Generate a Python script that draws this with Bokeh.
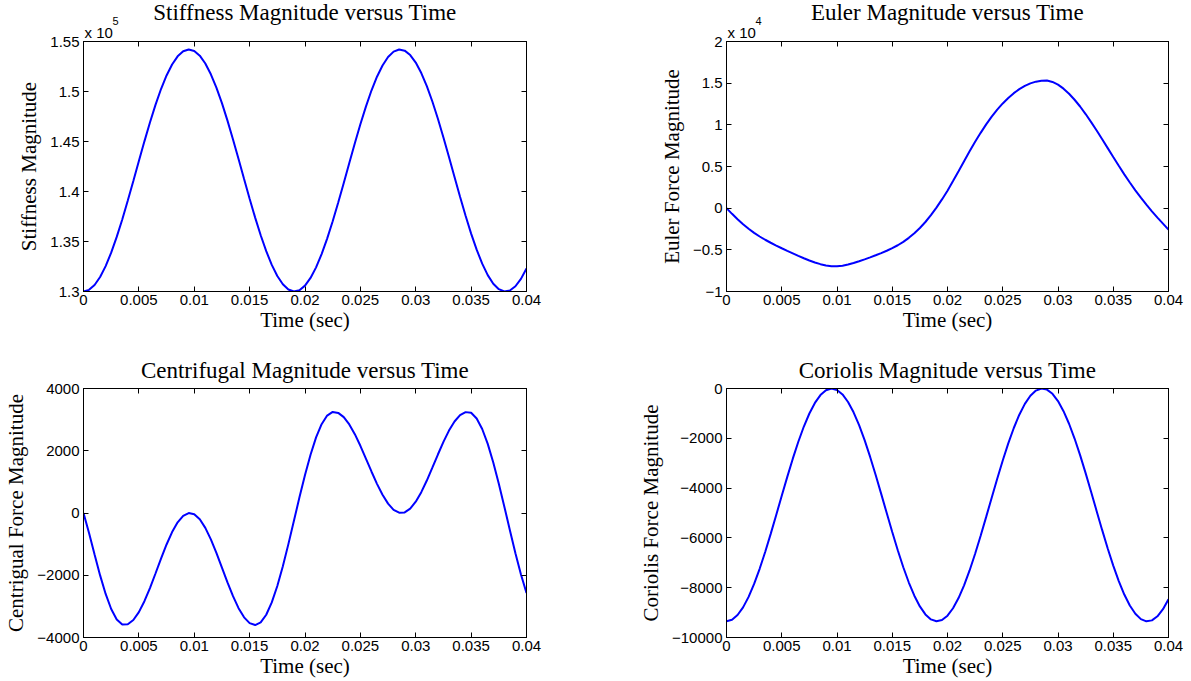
from bokeh.plotting import figure
from bokeh.layouts import column, row
from bokeh.models import Range1d, FixedTicker, LinearAxis, Title
from bokeh.embed import file_html
from bokeh.resources import INLINE

# ---------------- data ----------------
time_s = [round(i * 0.0005, 4) for i in range(81)]

stiffness = [
    130000, 130163, 130651, 131451, 132539, 133887, 135460, 137204, 139091, 141053,
    143046, 145015, 146907, 148663, 150248, 151602, 152702, 153515, 154020, 154199,
    154052, 153580, 152796, 151723, 150389, 148836, 147086, 145204, 143247, 141252,
    139282, 137389, 135622, 134032, 132662, 131549, 130719, 130197, 130001, 130131,
    130587, 131356, 132415, 133738, 135288, 137019, 138896, 140855, 142848, 144819,
    146722, 148492, 150096, 151476, 152606, 153451, 153986, 154199, 154085, 153646,
    152891, 151845, 150536, 148997, 147272, 145405, 143446, 141451, 139477, 137571,
    135791, 134182, 132785, 131637, 130780, 130231, 130001, 130099, 130523, 131261,
    132293,
]

euler = [
    0, -680, -1320, -1920, -2470, -2960, -3400, -3790, -4150, -4490,
    -4810, -5120, -5420, -5720, -6010, -6280, -6520, -6720, -6870, -6970,
    -6980, -6900, -6760, -6580, -6370, -6140, -5900, -5650, -5390, -5110,
    -4800, -4450, -4050, -3560, -3010, -2380, -1660, -840, 70, 1050,
    2100, 3250, 4440, 5640, 6820, 7960, 9040, 10050, 10980, 11820,
    12570, 13230, 13800, 14280, 14670, 14970, 15180, 15300, 15320, 15150,
    14820, 14340, 13730, 13010, 12200, 11295, 10330, 9315, 8270, 7205,
    6140, 5085, 4060, 3075, 2140, 1255, 420, -375, -1130, -1855,
    -2580,
]

centrifugal = [
    0, -643, -1337, -2005, -2601, -3085, -3421, -3585, -3577, -3439,
    -3186, -2834, -2411, -1944, -1466, -1011, -614, -300, -91, -3,
    -41, -203, -478, -846, -1281, -1752, -2227, -2672, -3057, -3352,
    -3537, -3600, -3516, -3270, -2873, -2344, -1709, -1000, -250, 503,
    1222, 1872, 2428, 2854, 3130, 3247, 3216, 3079, 2845, 2532,
    2159, 1750, 1334, 936, 584, 301, 102, 9, 20, 141,
    362, 670, 1043, 1455, 1879, 2286, 2648, 2940, 3142, 3241,
    3220, 3038, 2699, 2220, 1622, 942, 203, -553, -1290, -1974,
    -2573,
]

coriolis = [
    -9350, -9287, -9098, -8789, -8369, -7848, -7241, -6567, -5838, -5079,
    -4309, -3549, -2818, -2139, -1527, -1004, -579, -265, -70, 0,
    -57, -239, -542, -957, -1473, -2072, -2748, -3476, -4232, -5003,
    -5764, -6495, -7178, -7792, -8322, -8752, -9072, -9274, -9350, -9299,
    -9123, -8826, -8417, -7906, -7307, -6638, -5913, -5156, -4386, -3625,
    -2889, -2205, -1586, -1052, -616, -289, -83, 0, -44, -214,
    -506, -910, -1416, -2010, -2677, -3398, -4155, -4926, -5689, -6425,
    -7113, -7734, -8274, -8717, -9048, -9261, -9350, -9312, -9148, -8863,
    -8464,
]

x_ticks = [0, 0.005, 0.01, 0.015, 0.02, 0.025, 0.03, 0.035, 0.04]
x_tick_labels = ["0", "0.005", "0.01", "0.015", "0.02", "0.025", "0.03", "0.035", "0.04"]

stiff_ticks = [130000, 135000, 140000, 145000, 150000, 155000]
stiff_labels = ["1.3", "1.35", "1.4", "1.45", "1.5", "1.55"]
euler_ticks = [-10000, -5000, 0, 5000, 10000, 15000, 20000]
euler_labels = ["\u22121", "\u22120.5", "0", "0.5", "1", "1.5", "2"]
centri_ticks = [-4000, -2000, 0, 2000, 4000]
centri_labels = ["\u22124000", "\u22122000", "0", "2000", "4000"]
corio_ticks = [-10000, -8000, -6000, -4000, -2000, 0]
corio_labels = ["\u221210000", "\u22128000", "\u22126000", "\u22124000", "\u22122000", "0"]

SERIF = "Liberation Serif"
SANS = "Liberation Sans"


def style_axis(ax, ticks, labels=None):
    ax.ticker = FixedTicker(ticks=ticks)
    ax.axis_line_color = "black"
    ax.axis_line_width = 1
    ax.major_tick_line_color = "black"
    ax.major_tick_in = 5
    ax.major_tick_out = 0
    ax.minor_tick_line_color = None
    if labels is not None:
        ax.major_label_overrides = {t: l for t, l in zip(ticks, labels)}
        ax.major_label_text_font = SANS
        ax.major_label_text_font_size = "15px"
        ax.major_label_text_color = "black"
    else:
        ax.major_label_text_font_size = "0px"
        ax.major_label_standoff = 0


def make_panel(title, ylabel, ydata, yr, yticks, ylabels, width, height,
               borders, exponent=None):
    left, right, top, bottom = borders
    p = figure(width=width, height=height, output_backend="svg",
               toolbar_location=None, title=None,
               x_range=Range1d(0, 0.04), y_range=Range1d(*yr),
               min_border_left=left, min_border_right=right,
               min_border_top=top, min_border_bottom=bottom)
    p.background_fill_color = "white"
    p.border_fill_color = "white"
    p.outline_line_color = "black"
    p.xgrid.visible = False
    p.ygrid.visible = False

    p.line(time_s, ydata, line_color="#0000ff", line_width=2)

    xa = p.xaxis[0]
    style_axis(xa, x_ticks, x_tick_labels)
    xa.major_label_standoff = 3
    xa.axis_label = "Time (sec)"
    xa.axis_label_text_font = SERIF
    xa.axis_label_text_font_size = "21px"
    xa.axis_label_text_font_style = "normal"
    xa.axis_label_text_color = "black"
    xa.axis_label_standoff = 0

    ya = p.yaxis[0]
    style_axis(ya, yticks, ylabels)
    ya.major_label_standoff = 4
    ya.axis_label = ylabel
    ya.axis_label_text_font = SERIF
    ya.axis_label_text_font_size = "21px"
    ya.axis_label_text_font_style = "normal"
    ya.axis_label_text_color = "black"
    ya.axis_label_standoff = 6

    top_ax = LinearAxis()
    style_axis(top_ax, x_ticks)
    p.add_layout(top_ax, "above")
    right_ax = LinearAxis()
    style_axis(right_ax, yticks)
    p.add_layout(right_ax, "right")

    if exponent is not None:
        p.add_layout(Title(text="x 10", align="left", offset=1,
                           text_font=SANS, text_font_size="15px",
                           text_font_style="normal", text_color="black",
                           standoff=1), "above")
        p.add_layout(Title(text=exponent, align="left", offset=29,
                           text_font=SANS, text_font_size="11px",
                           text_font_style="normal", text_color="black",
                           standoff=-7), "above")
        main_standoff = -13
    else:
        main_standoff = 12

    p.add_layout(Title(text=title, align="center", text_font=SERIF,
                       text_font_size="23px", text_font_style="normal",
                       text_color="black", standoff=main_standoff), "above")
    return p


p1 = make_panel("Stiffness Magnitude versus Time", "Stiffness Magnitude",
                stiffness, (130000, 155000), stiff_ticks, stiff_labels,
                600, 340, (83, 74, 41, 49), exponent="5")
p2 = make_panel("Euler Magnitude versus Time", "Euler Force Magnitude",
                euler, (-10000, 20000), euler_ticks, euler_labels,
                591, 340, (126, 23, 41, 49), exponent="4")
p3 = make_panel("Centrifugal Magnitude versus Time", "Centrigual Force Magnitude",
                centrifugal, (-4000, 4000), centri_ticks, centri_labels,
                600, 341, (83, 74, 48, 44))
p4 = make_panel("Coriolis Magnitude versus Time", "Coriolis Force Magnitude",
                coriolis, (-10000, 0), corio_ticks, corio_labels,
                591, 341, (126, 23, 48, 44))

layout = column(row(p1, p2), row(p3, p4))

open("out.html", "w").write(file_html(layout, INLINE))
